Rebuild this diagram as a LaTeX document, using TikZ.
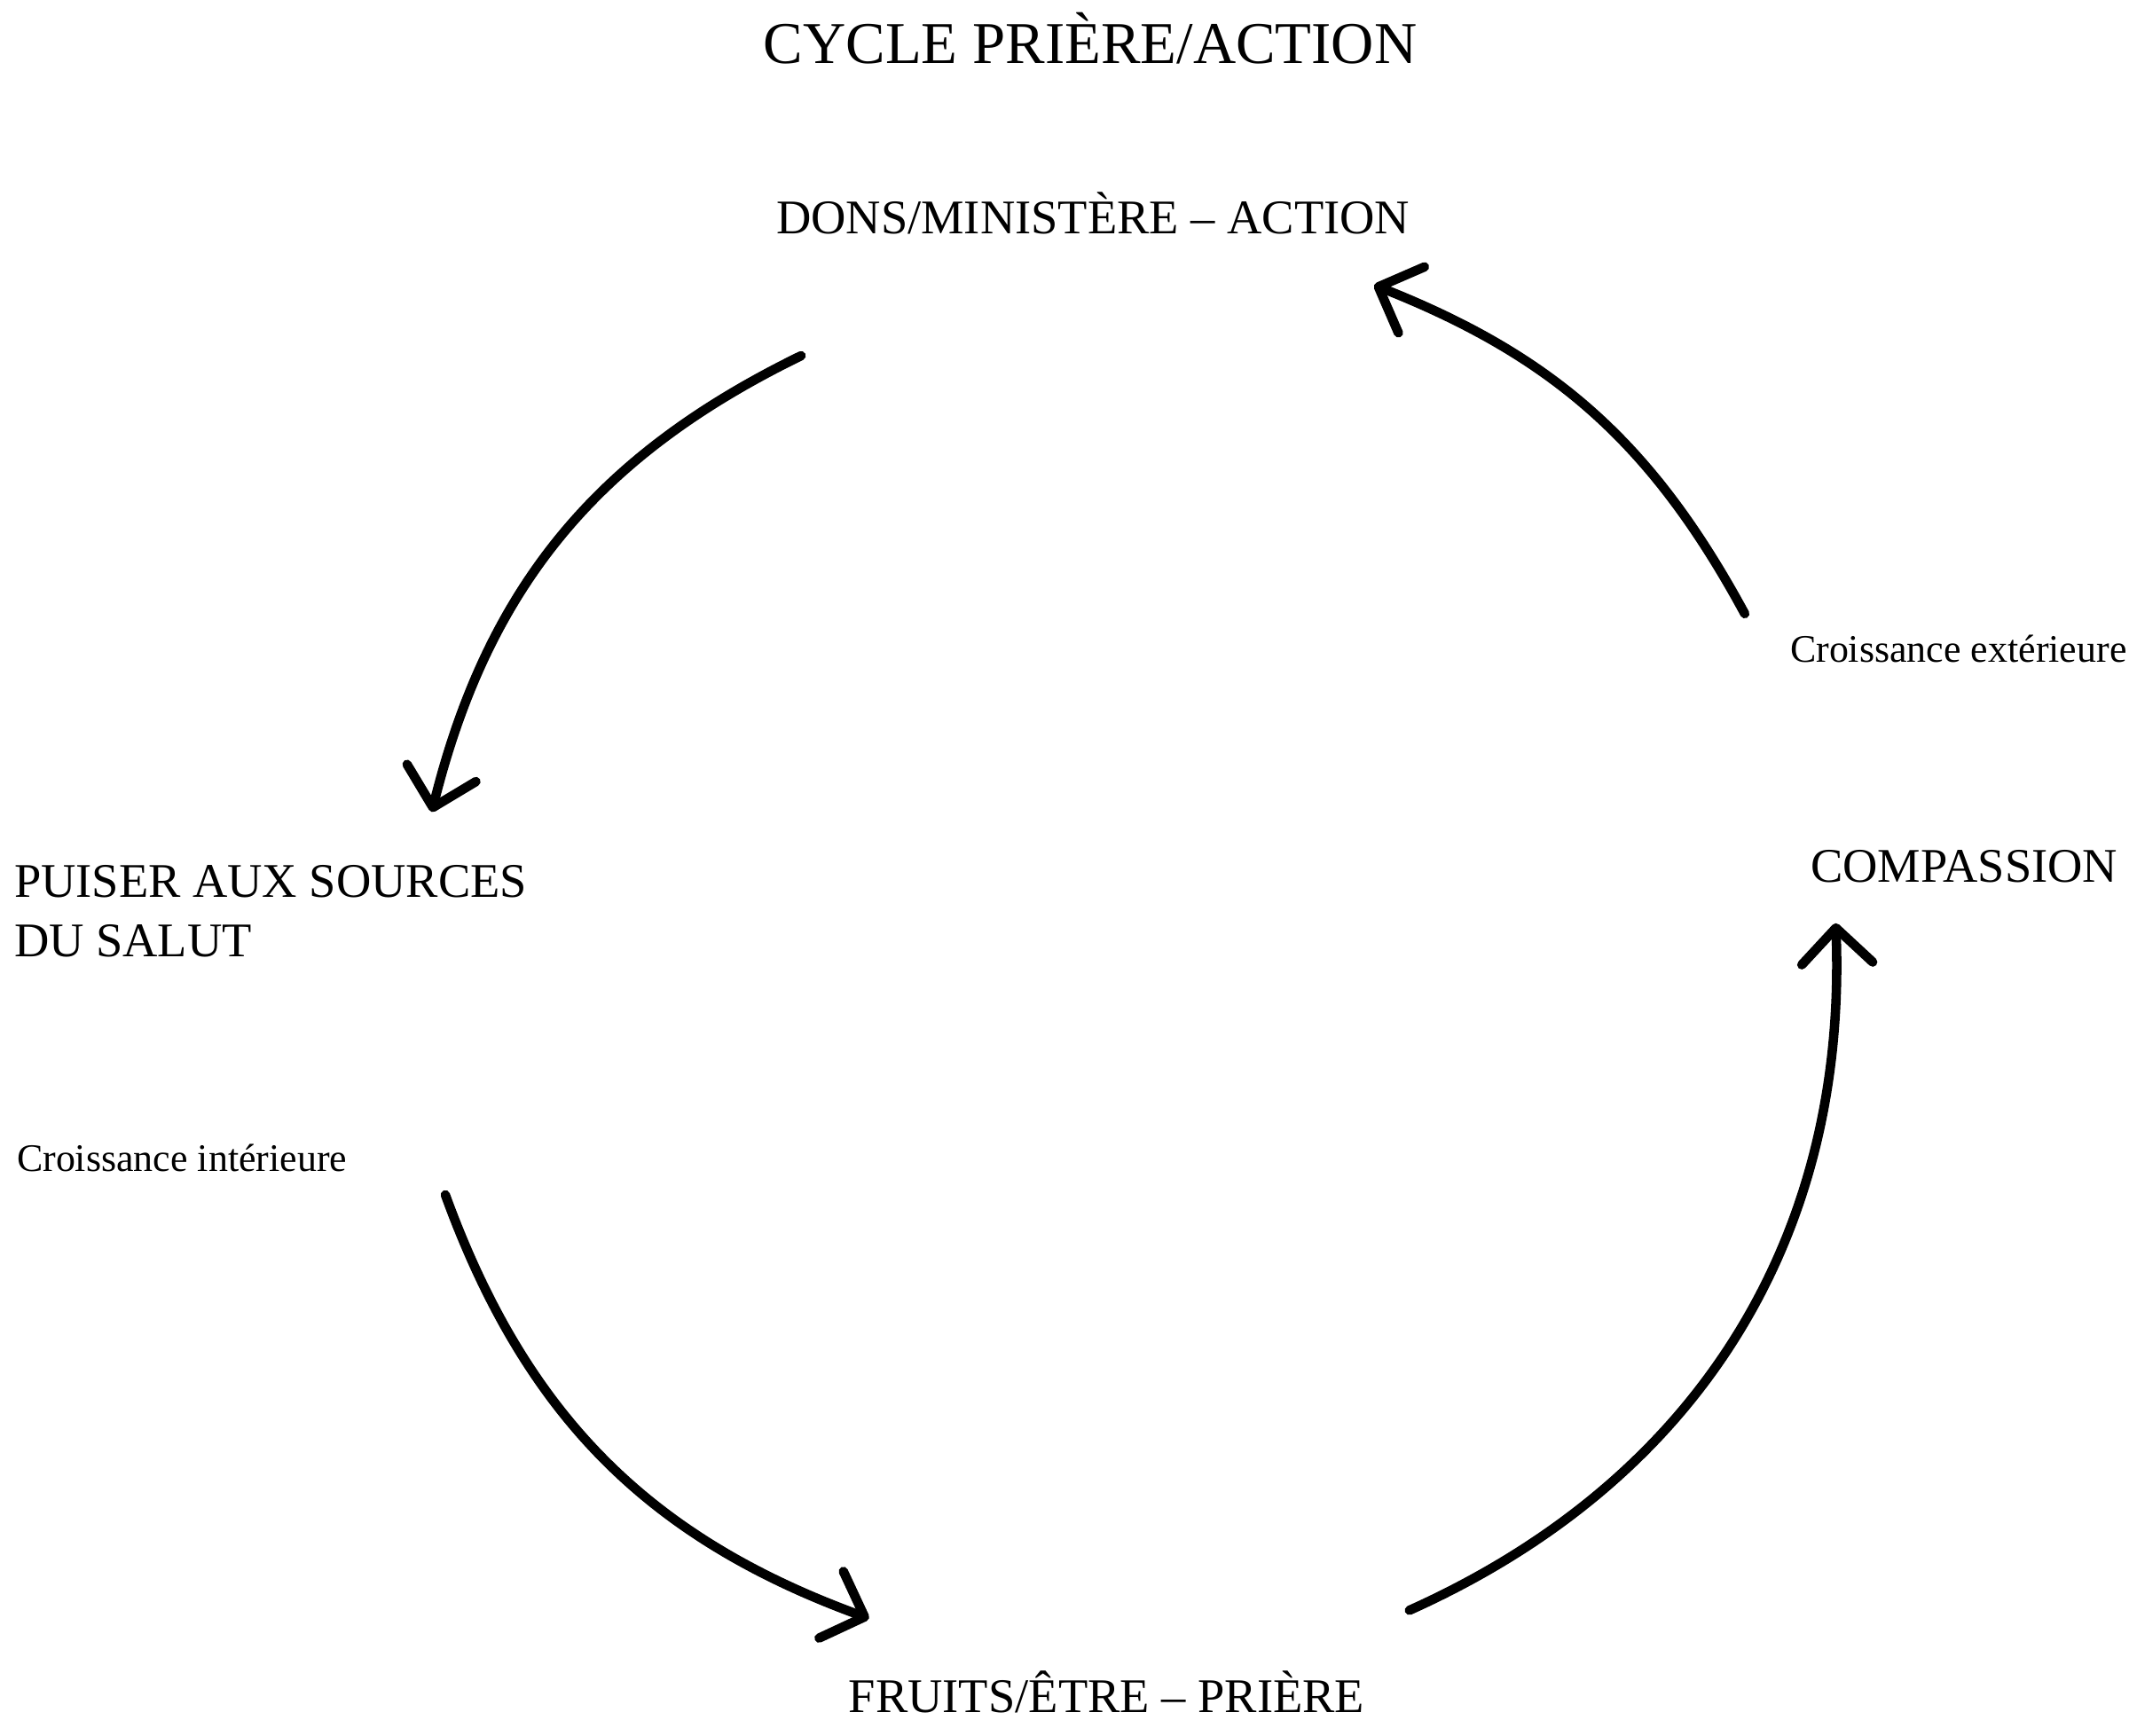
\documentclass[tikz,border=0pt]{standalone}
\usepackage{fontspec}
\setmainfont{Liberation Serif}
\usetikzlibrary{arrows.meta}
\begin{document}
\begin{tikzpicture}[x=0.0153cm,y=-0.0153cm,
  lab/.style={inner sep=0pt,font=\fontsize{15.5pt}{19pt}\selectfont},
  small/.style={inner sep=0pt,font=\fontsize{12.5pt}{15pt}\selectfont},
  arr/.style={line width=3pt,line cap=round,-{Straight Barb[length=4mm,width=8mm,line width=3pt,round]}}]
\useasboundingbox (0,0) rectangle (1568,1278);
\clip (0,0) rectangle (1568,1278);
\node[inner sep=0pt,font=\fontsize{19pt}{23pt}\selectfont] (title) at (803,28) {CYCLE PRIÈRE/ACTION};
\node[lab] (dons) at (805,157) {DONS/MINISTÈRE – ACTION};
\node[lab,anchor=west,align=left] (puiser) at (10,671) {PUISER AUX SOURCES\\DU SALUT};
\node[small,anchor=west] (cint) at (12,853) {Croissance intérieure};
\node[lab] (fruits) at (815,1246) {FRUITS/ÊTRE – PRIÈRE};
\node[lab,anchor=west] (comp) at (1333,638) {COMPASSION};
\node[small,anchor=west] (cext) at (1318,478) {Croissance extérieure};
\coordinate (a1) at (590,262); \coordinate (b1) at (318,598);
\coordinate (a2) at (328,880); \coordinate (b2) at (640,1192);
\coordinate (a3) at (1038,1186); \coordinate (b3) at (1352,680);
\coordinate (a4) at (1285,452); \coordinate (b4) at (1012,210);
\draw[arr] (a1) to[bend right=25] (b1);
\draw[arr] (a2) to[bend right=25] (b2);
\draw[arr] (a3) to[bend right=34] (b3);
\draw[arr] (a4) to[bend right=20] (b4);
\end{tikzpicture}
\end{document}
